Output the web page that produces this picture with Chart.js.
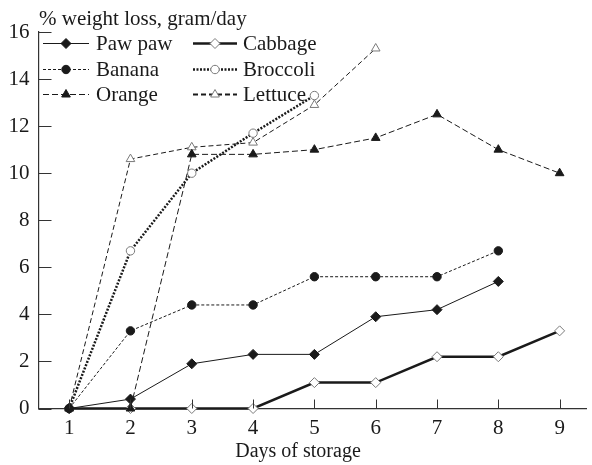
<!DOCTYPE html>
<html>
<head>
<meta charset="utf-8">
<script src="https://cdn.jsdelivr.net/npm/chart.js@4/dist/chart.umd.min.js"></script>
<style>
  html, body { margin: 0; padding: 0; background: #fff; }
  #wrap { width: 592px; height: 465px; position: relative; }
</style>
</head>
<body>
<div id="wrap"><canvas id="c" width="592" height="465"></canvas></div>
<script>
// Days of storage
const days = [1, 2, 3, 4, 5, 6, 7, 8, 9];
const yTicks = [0, 2, 4, 6, 8, 10, 12, 14, 16];

// % weight loss per commodity (gram/day)
const pawPaw   = [0, 0.4, 1.9, 2.3, 2.3, 3.9, 4.2, 5.4];
const banana   = [0, 3.3, 4.4, 4.4, 5.6, 5.6, 5.6, 6.7];
const orange   = [0, 0, 10.8, 10.8, 11.0, 11.5, 12.5, 11.0, 10.0];
const cabbage  = [0, 0, 0, 0, 1.1, 1.1, 2.2, 2.2, 3.3];
const broccoli = [0, 6.7, 10.0, 11.7, 13.3];
const lettuce  = [0, 10.6, 11.1, 11.3, 12.9, 15.3];

const yTitle = '% weight loss, gram/day';
const xTitle = 'Days of storage';

const INK = '#1a1a1a';
const GREY = '#7a7a7a';
const SERIF = '"Liberation Serif", "Times New Roman", serif';

function toPoints(values) {
  return values.map((v, i) => ({ x: days[i], y: v }));
}

function series(label, values, o) {
  return Object.assign({
    label,
    data: toPoints(values),
    borderColor: INK,
    borderWidth: 1,
    tension: 0,
    fill: false,
    clip: false,
    pointRadius: 4.2,
    pointHoverRadius: 4.2,
    pointBorderWidth: 1,
    pointBackgroundColor: INK,
    pointBorderColor: INK
  }, o);
}

const datasets = [
  series('Paw paw', pawPaw, { pointStyle: 'rectRot', pointRadius: 5, legendWidth: 1, legendDash: [] }),
  series('Banana', banana, { borderDash: [3, 2], pointStyle: 'circle', legendWidth: 1, legendDash: [3, 2] }),
  series('Orange', orange, { borderDash: [6, 3], pointStyle: 'triangle', pointRadius: 5, legendWidth: 1, legendDash: [6, 3] }),
  series('Cabbage', cabbage, { borderWidth: 2.5, pointStyle: 'rectRot', pointRadius: 5,
    pointBackgroundColor: '#fff', pointBorderColor: GREY, legendWidth: 2.5, legendDash: [] }),
  series('Broccoli', broccoli, { borderWidth: 2.5, borderDash: [2, 1.5], pointStyle: 'circle',
    pointBackgroundColor: '#fff', pointBorderColor: GREY, legendWidth: 2.5, legendDash: [2, 1.5] }),
  series('Lettuce', lettuce, { borderDash: [5, 3], pointStyle: 'triangle', pointRadius: 5,
    pointBackgroundColor: '#fff', pointBorderColor: GREY, legendWidth: 2, legendDash: [5, 3] })
];

// Inward tick marks, texts and the two-column legend
const decor = {
  id: 'decor',
  afterDraw(chart) {
    const ctx = chart.ctx;
    const xs = chart.scales.x, ys = chart.scales.y;
    ctx.save();
    ctx.strokeStyle = '#333';
    ctx.lineWidth = 1;
    ctx.setLineDash([]);
    // y ticks point right into the plot
    yTicks.forEach(v => {
      const py = Math.round(ys.getPixelForValue(v)) + 0.5;
      ctx.beginPath();
      ctx.moveTo(xs.left, py);
      ctx.lineTo(xs.left + 13, py);
      ctx.stroke();
    });
    // x ticks point up into the plot
    days.forEach(d => {
      const px = Math.round(xs.getPixelForValue(d)) + 0.5;
      ctx.beginPath();
      ctx.moveTo(px, ys.bottom);
      ctx.lineTo(px, ys.bottom - 9);
      ctx.stroke();
    });

    ctx.fillStyle = INK;
    ctx.font = '21px ' + SERIF;
    ctx.textBaseline = 'middle';
    ctx.textAlign = 'left';
    ctx.fillText(yTitle, 39, 19);

    ctx.font = '20px ' + SERIF;
    ctx.textAlign = 'center';
    ctx.fillText(xTitle, 298, 452);

    // legend
    const cols = [{ x0: 43, x1: 89, tx: 96 }, { x0: 193, x1: 237, tx: 243 }];
    const rows = [43.5, 69.5, 94.5];
    chart.data.datasets.forEach((ds, i) => {
      const c = cols[Math.floor(i / 3)];
      const y = rows[i % 3];
      ctx.strokeStyle = ds.borderColor;
      ctx.lineWidth = ds.legendWidth;
      ctx.setLineDash(ds.legendDash);
      ctx.beginPath();
      ctx.moveTo(c.x0, y);
      ctx.lineTo(c.x1, y);
      ctx.stroke();
      ctx.setLineDash([]);
      ctx.lineWidth = 1;
      ctx.fillStyle = ds.pointBackgroundColor;
      ctx.strokeStyle = ds.pointBorderColor;
      Chart.helpers.drawPoint(ctx, {
        pointStyle: ds.pointStyle, radius: ds.pointRadius, rotation: 0, borderWidth: 1
      }, (c.x0 + c.x1) / 2, y);
      ctx.fillStyle = INK;
      ctx.font = '21px ' + SERIF;
      ctx.textAlign = 'left';
      ctx.textBaseline = 'middle';
      ctx.fillText(ds.label, c.tx, y + 1);
    });
    ctx.restore();
  }
};

new Chart(document.getElementById('c'), {
  type: 'line',
  data: { datasets },
  options: {
    responsive: false,
    animation: false,
    devicePixelRatio: 1,
    layout: { padding: { top: 32, right: 0, left: 0, bottom: 0 } },
    plugins: { legend: { display: false }, tooltip: { enabled: false }, title: { display: false } },
    scales: {
      x: {
        type: 'linear',
        min: 0.5,
        max: 9.43,
        afterFit(s) { s.height = 56.5; },
        afterBuildTicks(s) { s.ticks = days.map(v => ({ value: v })); },
        grid: { display: false, drawTicks: false },
        border: { display: true, color: '#333', width: 1.2 },
        ticks: { color: INK, padding: 7, font: { family: SERIF, size: 21 }, maxRotation: 0 }
      },
      y: {
        min: 0,
        max: 16,
        afterFit(s) { s.width = 38.5; },
        afterBuildTicks(s) { s.ticks = yTicks.map(v => ({ value: v })); },
        grid: { display: false, drawTicks: false },
        border: { display: true, color: '#333', width: 1.2 },
        ticks: { color: INK, padding: 9, font: { family: SERIF, size: 21 } }
      }
    }
  },
  plugins: [decor]
});
</script>
</body>
</html>
